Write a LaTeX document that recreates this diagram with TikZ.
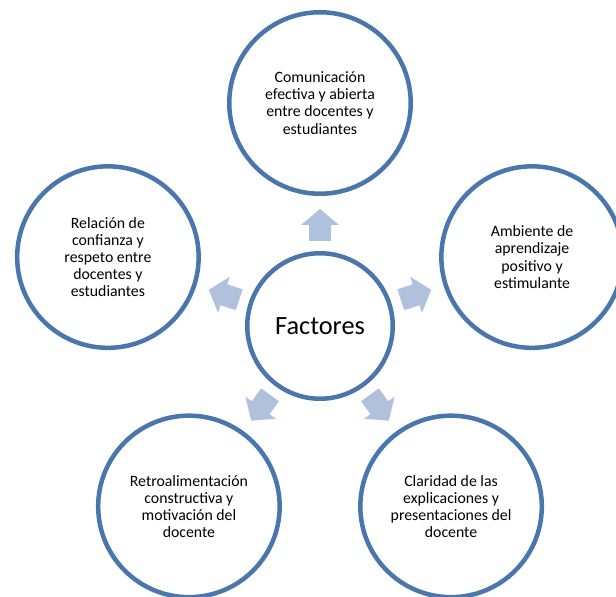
\documentclass[tikz,border=0pt]{standalone}
\usepackage{fontspec}
\setmainfont{Carlito}
\definecolor{ringblue}{RGB}{74,118,174}
\definecolor{arrowblue}{RGB}{176,193,222}
\begin{document}
\begin{tikzpicture}[x=1pt,y=1pt,
  ring/.style={circle, draw=ringblue, line width=4.5pt, fill=white,
    minimum size=181.5pt, inner sep=0pt, align=center,
    font=\fontsize{15.8}{17.2}\selectfont},
  hub/.style={ring, minimum size=145.5pt, font=\fontsize{26.3}{30}\selectfont},
  blockarrow/.style={fill=arrowblue, draw=none}
]
\useasboundingbox (0,0) rectangle (616,597);
\clip (0,0) rectangle (616,597);
\node[hub] (c) at (320,271) {Factores};
\node[ring] (top) at ([shift={(90:223)}]c) {Comunicación\\efectiva y abierta\\entre docentes y\\estudiantes};
\node[ring] (right) at ([shift={(18:223)}]c) {Ambiente de\\aprendizaje\\positivo y\\estimulante};
\node[ring] (bright) at ([shift={(-54:223)}]c) {Claridad de las\\explicaciones y\\presentaciones del\\docente};
\node[ring] (bleft) at ([shift={(-126:223)}]c) {Retroalimentación\\constructiva y\\motivación del\\docente};
\node[ring] (left) at ([shift={(162:223)}]c) {Relación de\\confianza y\\respeto entre\\docentes y\\estudiantes};
\foreach \a in {90,18,-54,-126,162}
  \fill[blockarrow, shift={(c)}, rotate=\a]
    (85,-11) -- (101,-11) -- (101,-19) -- (117,0) -- (101,19) -- (101,11) -- (85,11) -- cycle;
\end{tikzpicture}
\end{document}
